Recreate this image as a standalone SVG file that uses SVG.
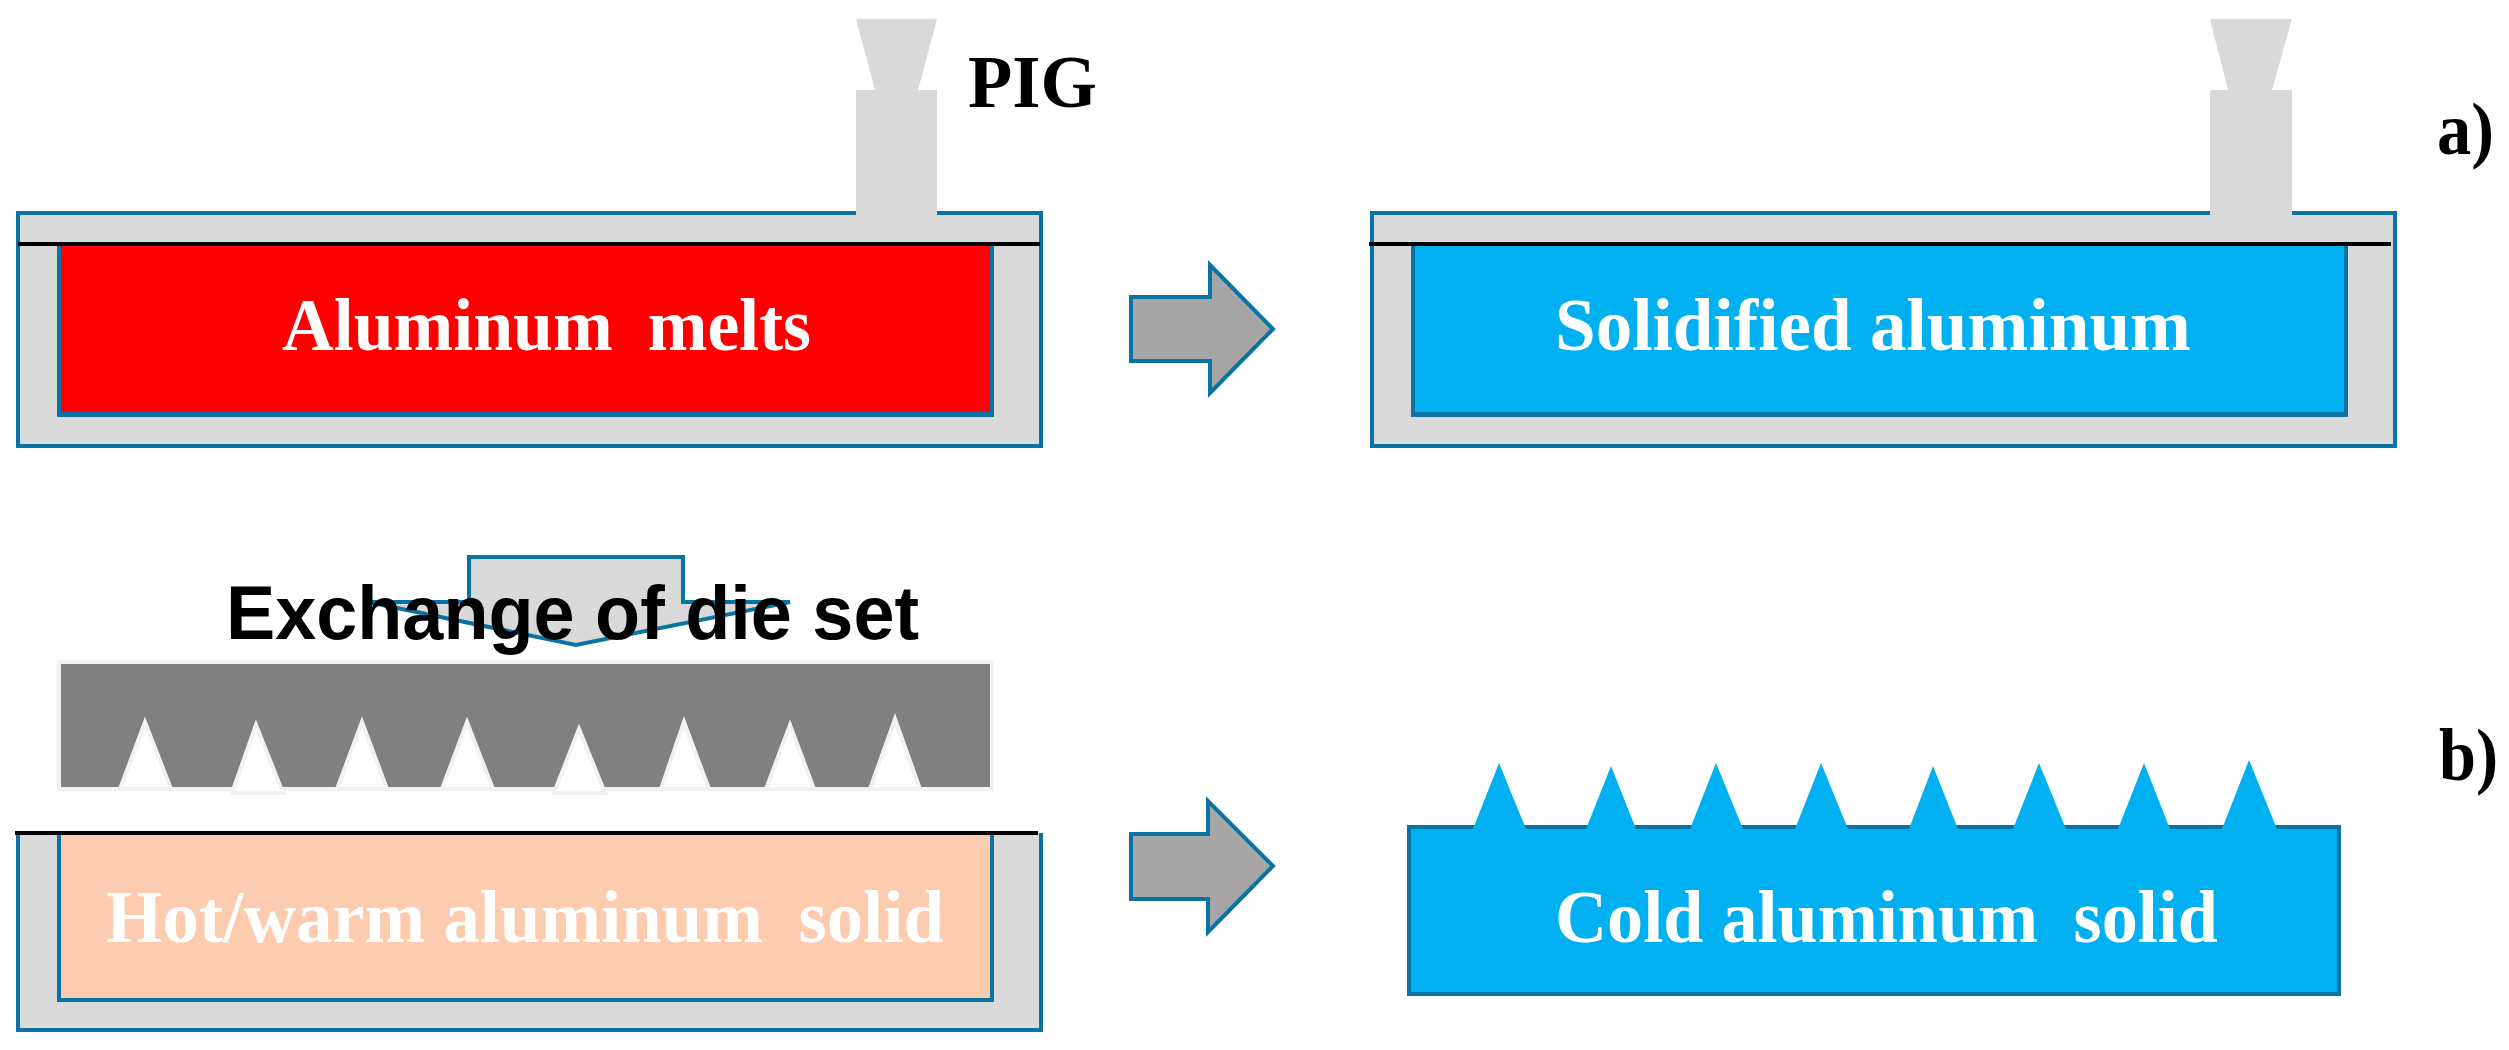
<svg xmlns="http://www.w3.org/2000/svg" width="2509" height="1050" viewBox="0 0 2509 1050">
<style>
.box{fill:#d9d9d9;stroke:#0a73a3;stroke-width:4}
.pipe{fill:#d9d9d9;stroke:none}
.line{fill:none;stroke:#000;stroke-width:4}
.edge{stroke:#0a73a3;stroke-width:4;fill:none}
.inner{stroke:#0a73a3;stroke-width:4}
.base{fill:#0a73a3;stroke:none}
.arrow{fill:#a6a6a6;stroke:#0a73a3;stroke-width:4}
.blue{fill:#00b0f0;stroke:#0a73a3;stroke-width:4}
.tooth{fill:#fff;stroke:#f2f2f2;stroke-width:4}
.spike{fill:#00b0f0;stroke:none}
.t{font-family:"Liberation Serif","Times New Roman",serif;font-weight:bold;font-size:75px}
.g{word-spacing:18px}
.w{fill:#fff}
</style>
<rect width="2509" height="1050" fill="#fff"/>
<g id="mold-a-left">
<rect class="box" x="18" y="213" width="1023" height="233"/>
<path class="inner" d="M59 244V415H992V244Z" fill="#f00"/>
<rect class="base" x="57" y="412" width="937" height="5"/>
<path class="pipe" d="M856 19H937L918 90H937V216H856V90H875Z"/>
<path class="line" d="M18 244H1040"/>
<text class="t w" x="282" y="350" textLength="529" lengthAdjust="spacingAndGlyphs">Aluminum<tspan class="g"> </tspan>melts</text>
</g>
<text id="pig" class="t" x="968" y="107" textLength="129" lengthAdjust="spacingAndGlyphs">PIG</text>
<g id="mold-a-right">
<rect class="box" x="1372" y="213" width="1023" height="233"/>
<path class="inner" d="M1413 244V415H2346V244Z" fill="#00b0f0"/>
<rect class="base" x="1411" y="412" width="937" height="5"/>
<path class="pipe" d="M2210 19H2292L2272 90H2292V216H2210V90H2228Z"/>
<path class="line" d="M1369 244H2391"/>
<text class="t w" x="1555" y="350" textLength="636" lengthAdjust="spacingAndGlyphs">Solidified aluminum</text>
</g>
<text id="label-a" class="t" x="2437" y="154" textLength="57" lengthAdjust="spacingAndGlyphs">a)</text>
<g id="punch">
<path d="M469 557H683V602H790L576 645L368 602H469Z" fill="#d9d9d9" stroke="none"/>
<path class="edge" d="M469 602V557H683V602H790L576 645L368 602H469"/>
<text x="226" y="639" font-family="Liberation Sans,Arial,sans-serif" font-weight="bold" font-size="76" textLength="693" lengthAdjust="spacingAndGlyphs">Exchange of die set</text>
</g>
<g id="die">
<rect x="59" y="662" width="933" height="127" fill="#808080" stroke="#f2f2f2" stroke-width="4"/>
<path class="tooth" d="M120 789L145 722L171 789Z"/>
<path class="tooth" d="M232 793L256 725L283 793Z"/>
<path class="tooth" d="M337 789L362 722L387 789Z"/>
<path class="tooth" d="M442 789L467 722L493 789Z"/>
<path class="tooth" d="M554 793L579 729L605 793Z"/>
<path class="tooth" d="M661 789L684 722L709 789Z"/>
<path class="tooth" d="M766 789L790 725L814 789Z"/>
<path class="tooth" d="M870 789L895 719L920 789Z"/>
</g>
<g id="mold-b-left">
<path d="M18 833V1030H1041V833Z" fill="#d9d9d9" stroke="none"/>
<path class="edge" d="M18 833V1030H1041V833"/>
<path class="inner" d="M59 833V1000H992V833Z" fill="#fdcbad"/>
<path class="line" d="M15 833H1038"/>
<text class="t w" x="106" y="942" textLength="838" lengthAdjust="spacingAndGlyphs">Hot/warm aluminum<tspan class="g"> </tspan>solid</text>
</g>
<g id="block-b-right">
<rect class="blue" x="1409" y="827" width="930" height="167"/>
<path class="spike" d="M1473 829L1499 763L1526 829Z"/>
<path class="spike" d="M1586 829L1611 766L1636 829Z"/>
<path class="spike" d="M1690 829L1716 763L1743 829Z"/>
<path class="spike" d="M1795 829L1821 763L1848 829Z"/>
<path class="spike" d="M1909 829L1933 766L1958 829Z"/>
<path class="spike" d="M2013 829L2039 763L2066 829Z"/>
<path class="spike" d="M2118 829L2144 763L2170 829Z"/>
<path class="spike" d="M2222 829L2249 760L2277 829Z"/>
<text class="t w" x="1555" y="942" textLength="663" lengthAdjust="spacingAndGlyphs">Cold aluminum<tspan class="g"> </tspan>solid</text>
</g>
<text id="label-b" class="t" x="2439" y="780" textLength="59" lengthAdjust="spacingAndGlyphs">b)</text>
<g id="connectors">
<path class="arrow" d="M1131 297H1210V265L1273 329L1210 393V361H1131Z"/>
<path class="arrow" d="M1131 834H1208V801L1273 866L1208 932V899H1131Z"/>
</g>
</svg>
